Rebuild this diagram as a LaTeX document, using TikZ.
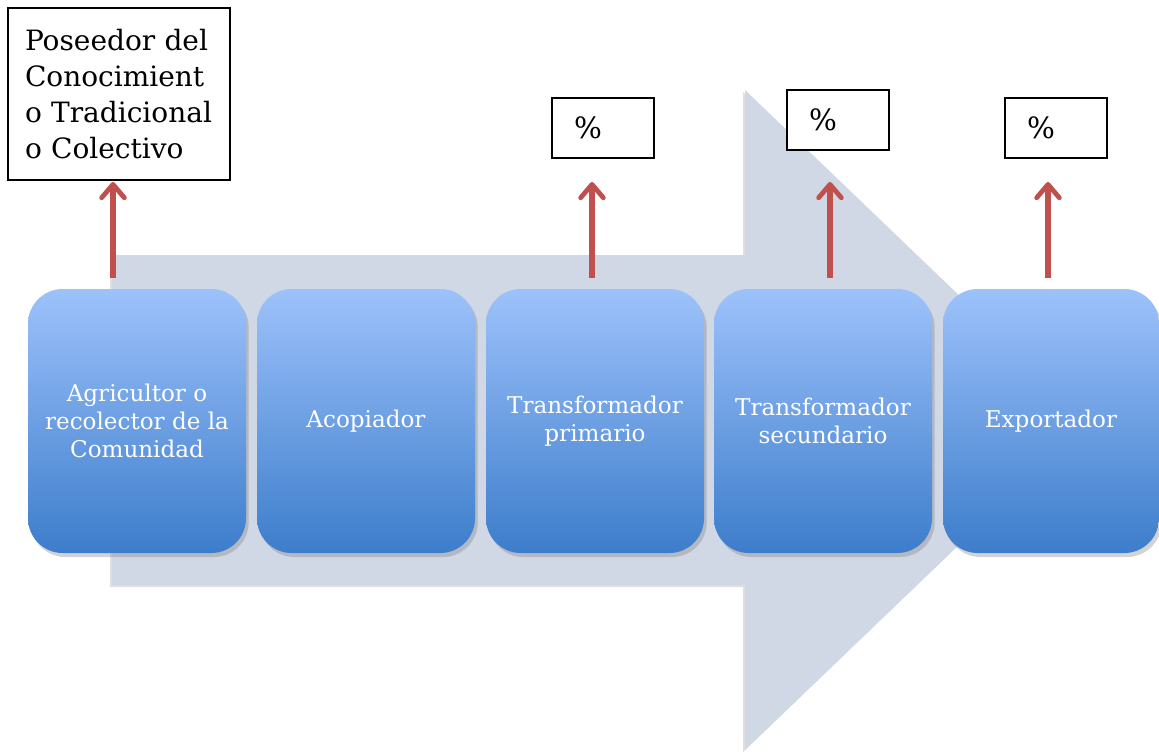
\documentclass[tikz,border=0pt]{standalone}
\usepackage{fontspec}
\setmainfont{DejaVu Serif}
\usetikzlibrary{arrows.meta,shadows}

\definecolor{bandgray}{RGB}{208,215,229}
\definecolor{stagetop}{RGB}{157,194,251}
\definecolor{stagebot}{RGB}{61,125,203}
\definecolor{upred}{RGB}{192,80,77}

\tikzset{every picture/.style={line width=0.75pt}}
\tikzset{
  stage/.style={rounded corners=26pt, minimum width=163.5pt, minimum height=198pt, inner sep=0pt,
    top color=stagetop, bottom color=stagebot, text=white, align=center,
    font=\fontsize{17.3}{21}\selectfont,
    drop shadow={shadow xshift=2pt, shadow yshift=-3pt, opacity=0.35}},
  pctbox/.style={draw, line width=1.5pt, fill=white, minimum width=76.5pt, minimum height=45pt,
    text width=43.5pt, inner xsep=16.5pt, align=left, font=\fontsize{22}{24}\selectfont},
  redarrow/.style={draw=upred, line width=4pt, shorten <=8.25pt,
    -{Straight Barb[length=10pt, width=17pt, line width=3.6pt, round]}}
}

\begin{document}
\begin{tikzpicture}[x=0.75pt,y=0.75pt,yscale=-1,xscale=1]
\useasboundingbox (0,0) rectangle (1159,753);

%Shape: Big arrow
\fill [bandgray, drop shadow={shadow xshift=-1.5pt, shadow yshift=-1.5pt, opacity=0.25}]
  (112,255) -- (745,255) -- (745,90) -- (1089,420) -- (745,750) -- (745,585) -- (112,585) -- cycle ;

%Shape: Stages
\node [stage] (agricultor) at (137,421) {Agricultor o\\recolector de la\\Comunidad};
\node [stage] (acopiador) at (366,421) {Acopiador};
\node [stage] (tprimario) at (595,421) {Transformador\\primario};
\node [stage] (tsecundario) at (823,421) {Transformador\\secundario};
\node [stage, minimum width=162pt] (exportador) at (1051,421) {Exportador};

% Text Node
\node [draw, line width=1.5pt, fill=white, minimum width=166.5pt, minimum height=129pt,
  text width=141pt, inner xsep=12.75pt, align=left, font=\fontsize{21}{27}\selectfont]
  (poseedor) at (119,94) {Poseedor del\\Conocimient\\o Tradicional\\o Colectivo};
% Text Node
\node [pctbox] (pctA) at (603,128) {\%};
% Text Node
\node [pctbox] (pctB) at (838,120) {\%};
% Text Node
\node [pctbox] (pctC) at (1056,128) {\%};

%Straight Lines
\coordinate (tipP) at (113,182);
\coordinate (tipA) at (592,182);
\coordinate (tipB) at (830,182);
\coordinate (tipC) at (1048,182);
\draw [redarrow] (agricultor.north -| tipP) -- (tipP);
\draw [redarrow] (tprimario.north -| tipA) -- (tipA);
\draw [redarrow] (tsecundario.north -| tipB) -- (tipB);
\draw [redarrow] (exportador.north -| tipC) -- (tipC);

\end{tikzpicture}
\end{document}
